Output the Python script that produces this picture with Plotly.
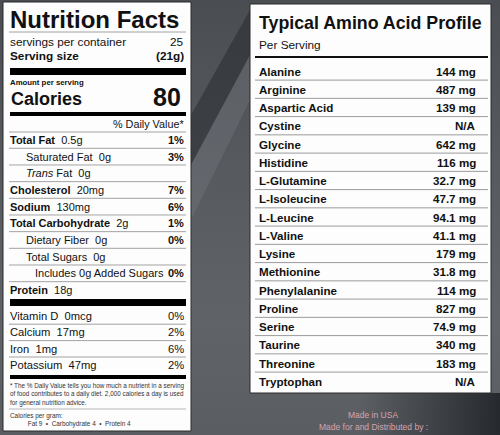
import plotly.graph_objects as go

# left label: nutrient rows
nutrient_names = ["Total Fat", "Saturated Fat", "<i>Trans</i> Fat", "Cholesterol", "Sodium",
                  "Total Carbohydrate", "Dietary Fiber", "Total Sugars",
                  "Includes 0g Added Sugars", "Protein"]
nutrient_amounts = ["0.5g", "0g", "0g", "20mg", "130mg", "2g", "0g", "0g", "", "18g"]
nutrient_dv = ["1%", "3%", "", "7%", "6%", "1%", "0%", "", "0%", ""]
nutrient_level = [0, 1, 1, 0, 0, 0, 1, 1, 2, 0]

vitamin_names = ["Vitamin D", "Calcium", "Iron", "Potassium"]
vitamin_amounts = ["0mcg", "17mg", "1mg", "47mg"]
vitamin_dv = ["0%", "2%", "6%", "2%"]

servings = "25"
serving_size = "(21g)"
calories = "80"

# right label: amino acids per serving
amino_names = ["Alanine", "Arginine", "Aspartic Acid", "Cystine", "Glycine", "Histidine",
               "L-Glutamine", "L-Isoleucine", "L-Leucine", "L-Valine", "Lysine",
               "Methionine", "Phenylalanine", "Proline", "Serine", "Taurine",
               "Threonine", "Tryptophan"]
amino_values = ["144 mg", "487 mg", "139 mg", "N/A", "642 mg", "116 mg", "32.7 mg",
                "47.7 mg", "94.1 mg", "41.1 mg", "179 mg", "31.8 mg", "114 mg",
                "827 mg", "74.9 mg", "340 mg", "183 mg", "N/A"]

FONT = "Liberation Sans, Arial, sans-serif"
W, H = 500, 435

fig = go.Figure()

# background: grey gradients
fig.add_trace(go.Scatter(
    x=[0, W, W, 0, 0], y=[0, 0, H, H, 0], mode="lines", fill="toself",
    line=dict(width=0), hoverinfo="skip",
    fillgradient=dict(type="vertical", start=0, stop=H,
                      colorscale=[[0, "#4a4d52"], [0.4, "#575b60"],
                                  [0.75, "#606469"], [1, "#5a5e63"]]),
))
# dark + light diagonal streaks in the gap between the labels
fig.add_trace(go.Scatter(
    x=[191, 250, 250, 191, 191], y=[115, 10, 55, 165, 115], mode="lines", fill="toself",
    line=dict(width=0), hoverinfo="skip", fillcolor="rgba(35,38,42,0.5)",
))
fig.add_trace(go.Scatter(
    x=[191, 250, 250, 191, 191], y=[165, 55, 100, 220, 165], mode="lines", fill="toself",
    line=dict(width=0), hoverinfo="skip", fillcolor="rgba(125,129,135,0.3)",
))
fig.add_trace(go.Scatter(
    x=[360, W, W, 360, 360], y=[393, 393, H, H, 393], mode="lines", fill="toself",
    line=dict(width=0), hoverinfo="skip",
    fillgradient=dict(type="horizontal", start=360, stop=W,
                      colorscale=[[0, "rgba(38,41,45,0)"], [1, "rgba(38,41,45,1)"]]),
))

shapes = []
annots = []


def hline(y, x0, x1, width=1, color="#8c8c8c"):
    shapes.append(dict(type="line", x0=x0, x1=x1, y0=y, y1=y, layer="above",
                       line=dict(color=color, width=width)))


def bar(y0, y1, x0=10, x1=186):
    shapes.append(dict(type="rect", x0=x0, x1=x1, y0=y0, y1=y1, layer="above",
                       fillcolor="#000", line=dict(width=0)))


def text(x, y, s, size, anchor="left", color="#111", bold=False):
    if bold:
        s = "<b>" + s + "</b>"
    annots.append(dict(x=x, y=y, text=s, showarrow=False, xanchor=anchor, yanchor="middle",
                       align=anchor if anchor != "center" else "center",
                       borderpad=0, font=dict(family=FONT, size=size, color=color)))


# white panels
shapes.append(dict(type="rect", x0=3, x1=191, y0=2, y1=431, layer="above",
                   fillcolor="#fdfdfd", line=dict(color="#2a2a2a", width=1)))
shapes.append(dict(type="rect", x0=250, x1=491, y0=4, y1=393, layer="above",
                   fillcolor="#fdfdfd", line=dict(color="#2a2a2a", width=1)))

# ---- Nutrition Facts ----
text(9, 19, "Nutrition Facts", 24, bold=True)
hline(32, 9, 186, 0.8)
text(9, 42, "servings per container", 11.8)
text(185, 42, servings, 11.8, anchor="right")
text(9, 56, "Serving size", 11.8, bold=True)
text(185, 56, serving_size, 11.8, anchor="right", bold=True)
bar(68, 75)
text(9, 82, "Amount per serving", 7.8, bold=True)
text(10, 99, "Calories", 18, bold=True)
text(182, 96.5, calories, 25, anchor="right", bold=True)
bar(112, 116)
text(185, 124, "% Daily Value*", 10.8, anchor="right")
hline(132, 9, 186, 0.8)

row_y0, row_step = 140, 16.67
indent = [9, 25, 34]
for i, name in enumerate(nutrient_names):
    y = row_y0 + i * row_step
    lvl = nutrient_level[i]
    label = ("<b>" + name + "</b>") if lvl == 0 else name
    if nutrient_amounts[i]:
        label += "&nbsp;&nbsp;" + nutrient_amounts[i]
    text(indent[lvl], y, label, 11)
    if nutrient_dv[i]:
        text(185, y, nutrient_dv[i], 11, anchor="right", bold=True)
    if i < len(nutrient_names) - 1:
        hline(y + 8.3, 9, 186, 0.8)

bar(299, 306)
vit_y0, vit_step = 316, 16.4
for i, name in enumerate(vitamin_names):
    y = vit_y0 + i * vit_step
    text(9, y, name + "&nbsp;&nbsp;" + vitamin_amounts[i], 11.2)
    text(185, y, vitamin_dv[i], 11.2, anchor="right")
    if i < len(vitamin_names) - 1:
        hline(y + 8.2, 9, 186, 0.8)
bar(375, 379)

footnote = ["* The % Daily Value tells you how much a nutrient in a serving",
            "of food contributes to a daily diet. 2,000 calories a day is used",
            "for general nutrition advice."]
text(9, 394.5, "<br>".join(footnote), 6.35, color="#333")
hline(409, 9, 186, 0.6)
text(9, 420, "Calories per gram:<br>&nbsp;&nbsp;&nbsp;&nbsp;&nbsp;&nbsp;&nbsp;&nbsp;&nbsp;&nbsp;"
     "Fat 9 &nbsp;•&nbsp; Carbohydrate 4 &nbsp;•&nbsp; Protein 4", 6.4, color="#333")

# ---- Amino acid profile ----
text(258, 23, "Typical Amino Acid Profile", 17.8, bold=True)
text(258, 45, "Per Serving", 11.8)
hline(57, 255, 488, 2.2, color="#111")
am_y0, am_step = 71, 18.25
for i, name in enumerate(amino_names):
    y = am_y0 + i * am_step
    text(258, y, name, 11.6, bold=True)
    text(477, y, amino_values[i], 11.6, anchor="right", bold=True)
    if i < len(amino_names) - 1:
        hline(y + 9.1, 255, 488, 1, color="#9a9a9a")

# footer text
text(373, 415, "Made in USA", 8.5, anchor="center", color="#d8a2ab")
text(373, 427, "Made for and Distributed by :", 8.5, anchor="center", color="#d8a2ab")

fig.update_layout(
    width=W, height=H, margin=dict(l=0, r=0, t=0, b=0),
    paper_bgcolor="#55595e", plot_bgcolor="#55595e",
    showlegend=False, shapes=shapes, annotations=annots,
    xaxis=dict(range=[0, W], visible=False, fixedrange=True),
    yaxis=dict(range=[H, 0], visible=False, fixedrange=True),
)

# drop the default page margin so the 500x435 figure fills the window
fig.write_html("out.html", config=dict(displayModeBar=False),
               post_script="document.body.style.margin='0';document.body.style.overflow='hidden';")
